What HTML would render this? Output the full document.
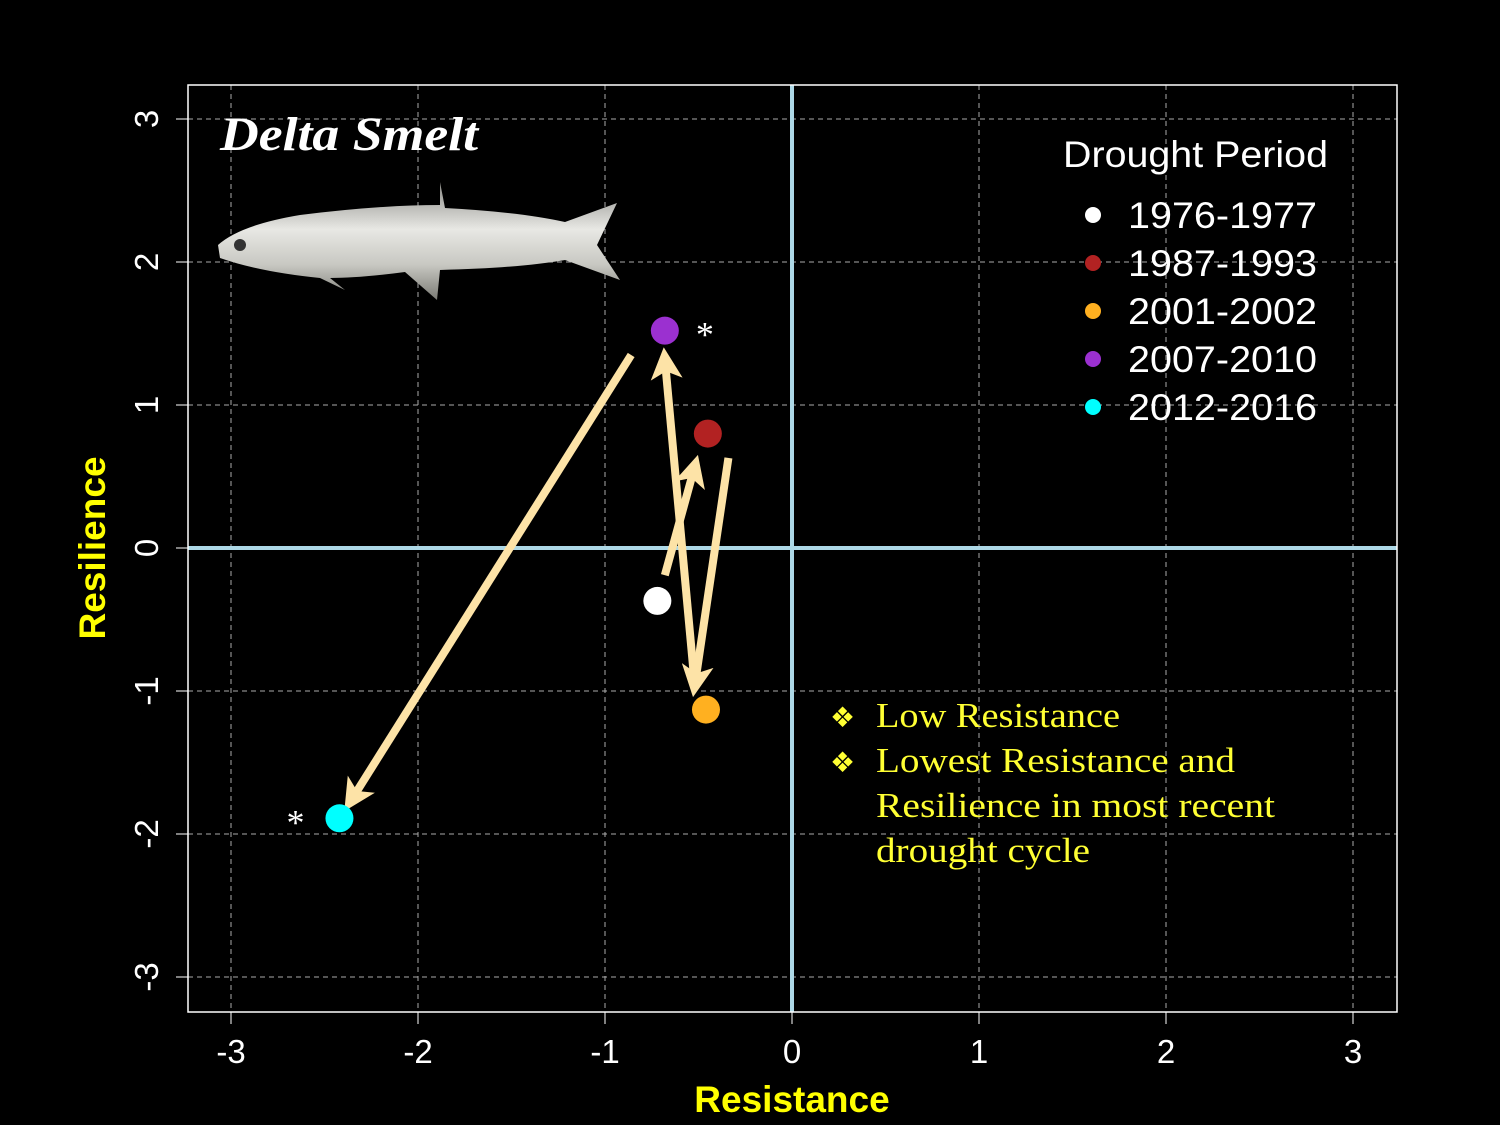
<!DOCTYPE html>
<html><head><meta charset="utf-8"><style>
body{margin:0;background:#000;width:1500px;height:1125px;overflow:hidden}
svg{display:block}
</style></head><body>
<svg id="chart" width="1500" height="1125" xmlns="http://www.w3.org/2000/svg">
<defs>
<linearGradient id="fishg" x1="0" y1="0" x2="0" y2="1">
<stop offset="0" stop-color="#8a8a86"/><stop offset="0.4" stop-color="#e8e8e4"/><stop offset="0.7" stop-color="#c8c8c2"/><stop offset="1" stop-color="#7a7a74"/>
</linearGradient>
<marker id="ah" markerWidth="4" markerHeight="4" refX="2.5" refY="2" orient="auto" markerUnits="strokeWidth"><path d="M0,0 L4,2 L0,4 L1,2 Z" fill="#fde3a7"/></marker>
</defs>
<g id="grid"></g>
<g id="axes"></g>
<g>
<path d="M218,245 Q240,225 300,215 Q380,205 440,205 L440,182 L445,208 Q520,212 565,222 L617,203 L597,245 L620,280 L565,260 Q520,268 440,270 L437,300 L405,272 Q360,278 330,278 L345,290 L320,278 Q260,272 220,258 Z" fill="url(#fishg)"/>
<circle cx="240" cy="245" r="6" fill="#333"/>
</g>
<text x="220" y="150" textLength="258" lengthAdjust="spacingAndGlyphs" font-family="Liberation Serif,serif" font-style="italic" font-weight="bold" font-size="48" fill="#fff">Delta Smelt</text>
<g id="arrows"></g>
<g id="points"></g>
<g font-family="Liberation Sans,sans-serif" fill="#fff">
<text x="1063" y="167" textLength="265" lengthAdjust="spacingAndGlyphs" font-size="37" fill="#fff">Drought Period</text>
<g id="legend-entries"></g>
</g>
<g font-family="Liberation Serif,serif" font-size="35" fill="#ffff33">
<text x="830" y="727" font-size="28">❖</text><text x="876" y="727" textLength="244" lengthAdjust="spacingAndGlyphs">Low Resistance</text>
<text x="830" y="772" font-size="28">❖</text><text x="876" y="772" textLength="359" lengthAdjust="spacingAndGlyphs">Lowest Resistance and</text>
<text x="876" y="817" textLength="399" lengthAdjust="spacingAndGlyphs">Resilience in most recent</text>
<text x="876" y="862" textLength="214" lengthAdjust="spacingAndGlyphs">drought cycle</text>
</g>
<text x="792" y="1112" text-anchor="middle" font-family="Liberation Sans,sans-serif" font-weight="bold" font-size="37" fill="#ffff00">Resistance</text>
<text transform="translate(105,548) rotate(-90)" text-anchor="middle" font-family="Liberation Sans,sans-serif" font-weight="bold" font-size="37" fill="#ffff00">Resilience</text>
</svg>
<script>
const periods=["1976-1977","1987-1993","2001-2002","2007-2010","2012-2016"];
const resistance=[-0.72,-0.45,-0.46,-0.68,-2.42];
const resilience=[-0.37,0.80,-1.13,1.52,-1.89];
const colors=["#ffffff","#b22222","#ffb020","#9b30d0","#00ffff"];
const starred=[false,false,false,true,true];
const ticks=[-3,-2,-1,0,1,2,3];
const arrowFrom=[[-0.68,-0.19],[-0.34,0.63],[-0.52,-0.96],[-0.86,1.35]];
const arrowTo=[[-0.52,0.57],[-0.52,-0.96],[-0.68,1.32],[-2.36,-1.77]];
const NS="http://www.w3.org/2000/svg";
const X=v=>792+v*187, Y=v=>548-v*143;
function mk(t,a,p){const e=document.createElementNS(NS,t);for(const k in a)e.setAttribute(k,a[k]);p.appendChild(e);return e;}
const grid=document.getElementById('grid'),axes=document.getElementById('axes');
ticks.forEach(t=>{
 if(t!==0){
  const g1=mk('line',{x1:X(t),x2:X(t),y1:85,y2:1012,stroke:'#aaa','stroke-dasharray':'5,4','stroke-width':1},grid);
  
  
  const g2=mk('line',{x1:188,x2:1397,y1:Y(t),y2:Y(t),stroke:'#aaa','stroke-dasharray':'5,4','stroke-width':1},grid);
  
  
 }
 mk('line',{x1:X(t),x2:X(t),y1:1012,y2:1024,stroke:'#fff'},axes);
 const xl=mk('text',{x:X(t),y:1063,'text-anchor':'middle','font-family':'Liberation Sans,sans-serif','font-size':33,fill:'#fff'},axes);
 xl.textContent=t;
 
 
 mk('line',{x1:176,x2:188,y1:Y(t),y2:Y(t),stroke:'#fff'},axes);
 const yl=mk('text',{transform:`translate(158,${Y(t)}) rotate(-90)`,'text-anchor':'middle','font-family':'Liberation Sans,sans-serif','font-size':33,fill:'#fff'},axes);
 yl.textContent=t;
 
 
});
mk('line',{x1:X(0),x2:X(0),y1:85,y2:1012,stroke:'#add8e6','stroke-width':4},grid);
mk('line',{x1:188,x2:1397,y1:Y(0),y2:Y(0),stroke:'#add8e6','stroke-width':4},grid);
mk('rect',{x:188,y:85,width:1209,height:927,fill:'none',stroke:'#fff','stroke-width':1.5},axes);
const ar=document.getElementById('arrows');
arrowFrom.forEach((f,i)=>{
 const l=mk('line',{x1:X(f[0]),y1:Y(f[1]),x2:X(arrowTo[i][0]),y2:Y(arrowTo[i][1]),stroke:'#fde3a7','stroke-width':8,'marker-end':'url(#ah)'},ar);
 
 
});
const pts=document.getElementById('points'),leg=document.getElementById('legend-entries');
periods.forEach((p,i)=>{
 const c=mk('circle',{cx:X(resistance[i]),cy:Y(resilience[i]),r:14,fill:colors[i]},pts);
 
 
 if(starred[i]){
  const s=mk('text',{x:X(resistance[i])+(resistance[i]<-1?-44:40),y:Y(resilience[i])+16,'text-anchor':'middle','font-family':'Liberation Serif,serif','font-size':36,fill:'#fff'},pts);
  s.textContent='*';
  
  
 }
 const ly=215+i*48;
 const lc=mk('circle',{cx:1093,cy:ly,r:8,fill:colors[i]},leg);
 
 
 const lt=mk('text',{x:1128,y:ly+13,textLength:189,lengthAdjust:'spacingAndGlyphs','font-family':'Liberation Sans,sans-serif','font-size':37,fill:'#fff'},leg);
 lt.textContent=p;
 
 
});
</script>
</body></html>
